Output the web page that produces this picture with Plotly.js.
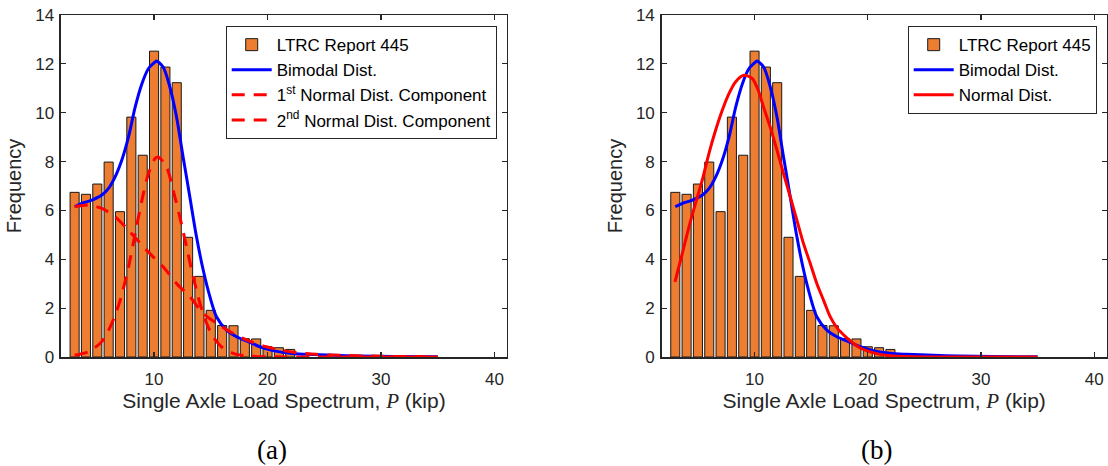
<!DOCTYPE html>
<html>
<head>
<meta charset="utf-8">
<script src="https://cdn.plot.ly/plotly-3.0.1.min.js"></script>
<style>html,body{margin:0;padding:0;background:#fff;}#chart{width:1108px;height:466px;}</style>
</head>
<body>
<div id="chart"></div>
<script>
// ---- data ----
const kips = [3,4,5,6,7,8,9,10,11,12,13,14,15,16,17,18,19,20,21,22];
const freq = [6.74,6.66,7.08,7.98,5.95,9.82,8.26,12.52,11.87,11.23,4.90,3.30,1.91,1.29,1.28,0.75,0.74,0.42,0.38,0.31];

const bimodalX = [3,3.64,4.52,5.4,5.99,6.57,7.16,7.75,8.34,8.93,9.51,10.1,10.22,10.8,11.39,11.98,12.56,13.15,13.74,14.33,14.92,15.5,16.39,17.27,18.44,19.32,20.5,21.96,23.4,25.8,28,31,35];
const bimodalY = [6.15,6.29,6.42,6.63,6.9,7.37,8.06,9.01,10.24,11.19,11.81,12.08,12.12,11.87,11.06,9.83,8.19,6.56,4.92,3.56,2.47,1.65,1.10,0.83,0.60,0.42,0.26,0.15,0.11,0.07,0.04,0.02,0.01];

const comp1X = [3,4.23,5.4,6.28,7.02,7.75,8.34,8.93,9.51,10.1,10.36,11.1,11.68,12.27,12.86,13.45,14.04,14.63,15.21,16.09,16.97,18,20,24,35];
const comp1Y = [0.07,0.22,0.63,1.38,2.33,3.69,5.06,6.42,7.51,8.13,8.19,7.78,6.83,5.74,4.51,3.28,2.20,1.38,0.83,0.36,0.15,0.05,0.01,0,0];

const comp2X = [3,4.23,5.4,6.57,7.75,8.93,9.7,10.8,11.98,13.15,14.33,15.5,16.68,17.85,18.73,19.9,21.08,22.55,24.3,26.4,30,35];
const comp2Y = [6.15,6.22,6.08,5.74,5.19,4.58,4.2,3.69,3.01,2.47,1.79,1.38,1.04,0.76,0.59,0.42,0.29,0.18,0.11,0.07,0.03,0.01];

const normalX = [2.97,3.62,4.21,4.79,5.38,5.97,6.56,7.15,7.74,8.32,9.06,9.8,10.3,10.79,11.38,11.98,12.56,13.15,13.74,14.32,14.92,15.5,16.09,16.68,17.27,18.15,18.74,19.33,20.5,21.97,24,28,35];
const normalY = [3.08,4.24,5.33,6.29,7.24,8.33,9.28,10.10,10.78,11.26,11.53,11.40,10.95,10.24,9.42,8.47,7.51,6.56,5.60,4.65,3.83,3.01,2.33,1.65,1.20,0.78,0.55,0.37,0.17,0.05,0.01,0,0];

const xTicks = [10,20,30,40];
const seriesNames = ['LTRC Report 445','Bimodal Dist.','1<sup>st</sup> Normal Dist. Component','2<sup>nd</sup> Normal Dist. Component','Normal Dist.'];
const panelLabels = ['(a)','(b)'];

// ---- styles ----
const orange = '#ED7D31';
const barStyle = {color: orange, line: {color: '#1a1a1a', width: 1}};
const sans = 'Liberation Sans, Arial, sans-serif';
const dashed = '13px,9px';

const traces = [
  {type:'bar', x:kips, y:freq, width:0.8, marker:barStyle, name:seriesNames[0], xaxis:'x', yaxis:'y', legend:'legend'},
  {type:'scatter', mode:'lines', x:bimodalX, y:bimodalY, line:{color:'#0000FF', width:3, shape:'spline', smoothing:0.8}, name:seriesNames[1], xaxis:'x', yaxis:'y', legend:'legend'},
  {type:'scatter', mode:'lines', x:comp1X, y:comp1Y, line:{color:'#FF0000', width:3, dash:dashed, shape:'spline', smoothing:0.8}, name:seriesNames[2], xaxis:'x', yaxis:'y', legend:'legend'},
  {type:'scatter', mode:'lines', x:comp2X, y:comp2Y, line:{color:'#FF0000', width:3, dash:dashed, shape:'spline', smoothing:0.8}, name:seriesNames[3], xaxis:'x', yaxis:'y', legend:'legend'},

  {type:'bar', x:kips, y:freq, width:0.8, marker:barStyle, name:seriesNames[0], xaxis:'x2', yaxis:'y2', legend:'legend2'},
  {type:'scatter', mode:'lines', x:bimodalX, y:bimodalY, line:{color:'#0000FF', width:3, shape:'spline', smoothing:0.8}, name:seriesNames[1], xaxis:'x2', yaxis:'y2', legend:'legend2'},
  {type:'scatter', mode:'lines', x:normalX, y:normalY, line:{color:'#FF0000', width:3, shape:'spline', smoothing:0.8}, name:seriesNames[4], xaxis:'x2', yaxis:'y2', legend:'legend2'}
];

const xTitle = 'Single Axle Load Spectrum, <span style="font-family:Liberation Serif;font-style:italic">P</span> (kip)';

function xAxis(domain, anchor){
  return {
    domain: domain, anchor: anchor, range:[1.8,41.1], tickvals:xTicks, ticktext:xTicks.map(String),
    ticks:'inside', ticklen:5, tickwidth:1.2, tickcolor:'#262626',
    showline:true, linecolor:'#262626', linewidth:1.5, mirror:'ticks',
    showgrid:false, zeroline:false, automargin:false, ticklabelstandoff:6,
    tickfont:{family:sans, size:17, color:'#262626'},
    title:{text:xTitle, font:{family:sans, size:21, color:'#262626'}, standoff:5}
  };
}
function yAxis(anchor){
  return {
    domain:[0.2339,0.9678], anchor:anchor, range:[0,14], dtick:2, tick0:0,
    ticks:'inside', ticklen:5, tickwidth:1.2, tickcolor:'#262626',
    showline:true, linecolor:'#262626', linewidth:1.5, mirror:'ticks',
    showgrid:false, zeroline:false, automargin:false, ticklabelstandoff:2,
    tickfont:{family:sans, size:17, color:'#262626'},
    title:{text:'Frequency', font:{family:sans, size:20, color:'#262626'}, standoff:8}
  };
}

const legendBase = {
  bgcolor:'#ffffff', bordercolor:'#262626', borderwidth:1,
  font:{family:sans, size:17, color:'#000'}, itemwidth:40, tracegroupgap:0,
  xanchor:'right', yanchor:'top', y:0.944
};

const layout = {
  width:1108, height:466, margin:{l:0,r:0,t:0,b:0},
  paper_bgcolor:'#fff', plot_bgcolor:'#fff', bargap:0.2,
  xaxis: xAxis([0.05505,0.45758],'y'),
  yaxis: yAxis('x'),
  xaxis2: xAxis([0.5972,0.9988],'y2'),
  yaxis2: yAxis('x2'),
  legend: Object.assign({}, legendBase, {x:0.4483}),
  legend2: Object.assign({}, legendBase, {x:0.9898}),
  annotations:[
    {text:panelLabels[0], xref:'paper', yref:'paper', x:272/1108, y:16/466, xanchor:'center', yanchor:'middle', showarrow:false, font:{family:'Liberation Serif, Times New Roman, serif', size:27, color:'#000'}},
    {text:panelLabels[1], xref:'paper', yref:'paper', x:876/1108, y:16/466, xanchor:'center', yanchor:'middle', showarrow:false, font:{family:'Liberation Serif, Times New Roman, serif', size:27, color:'#000'}}
  ],
  showlegend:true
};

Plotly.newPlot('chart', traces, layout, {staticPlot:true, displayModeBar:false});
</script>
</body>
</html>
